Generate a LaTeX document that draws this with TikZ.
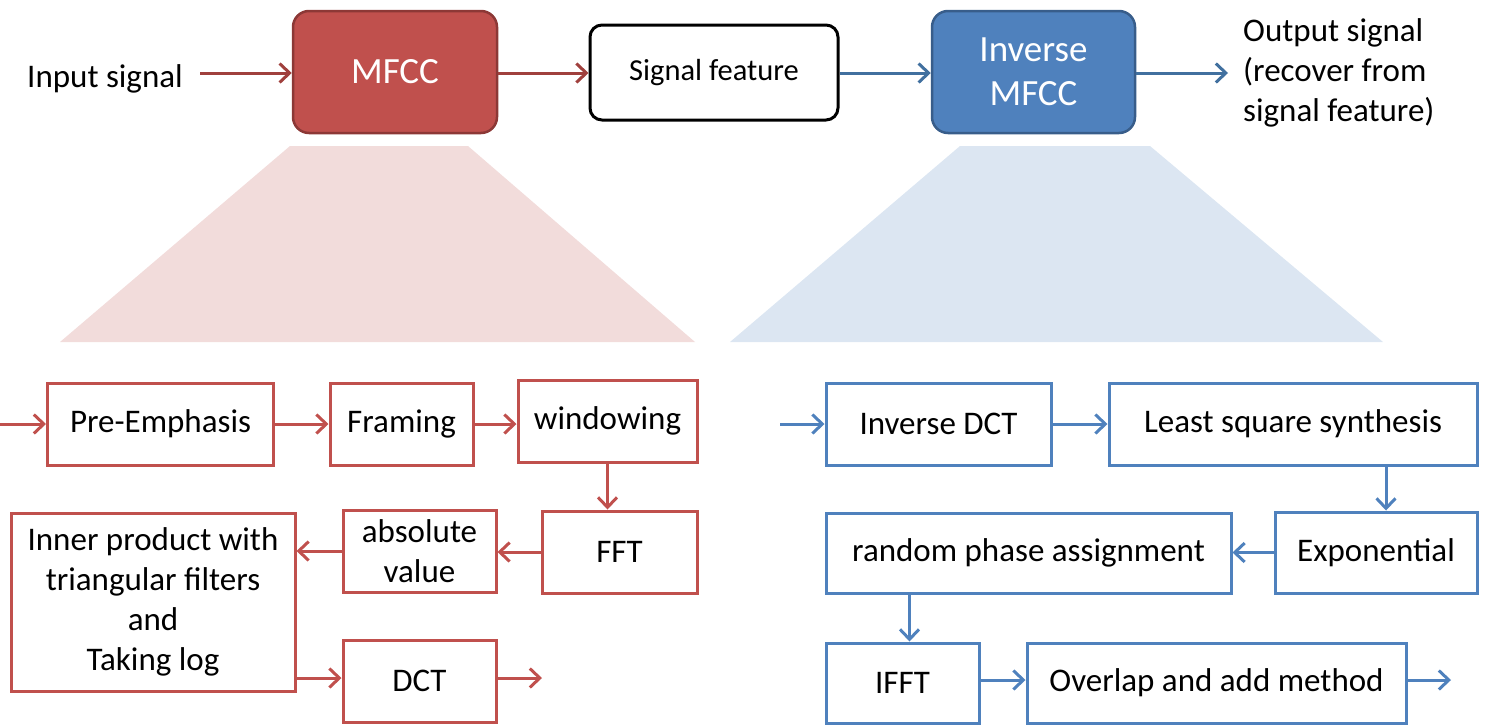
\documentclass[tikz,border=0pt]{standalone}
\usepackage{fontspec}
\setmainfont{Carlito}
\usetikzlibrary{arrows.meta,calc}
\definecolor{mred}{HTML}{C0504D}
\definecolor{mredd}{HTML}{8C3836}
\definecolor{mreda}{HTML}{A0403D}
\definecolor{mblue}{HTML}{4F81BD}
\definecolor{mblued}{HTML}{385D8A}
\definecolor{mbluea}{HTML}{41709F}
\definecolor{pinkbg}{HTML}{F2DCDB}
\definecolor{bluebg}{HTML}{DCE6F2}
\tikzset{
  txt/.style={font=\fontsize{33}{40}\selectfont, align=center, inner sep=0pt},
  topbox/.style={txt, font=\fontsize{37}{44}\selectfont, rounded corners=16pt, line width=2.5pt},
  rbox/.style={txt, draw=mred, line width=3pt},
  bbox/.style={txt, draw=mblue, line width=3pt},
  barb/.style={-{Straight Barb[length=10pt,width=19pt]}, line width=3pt},
  rarr/.style={barb, draw=mred},
  barr/.style={barb, draw=mblue},
  trarr/.style={barb, draw=mreda},
  tbarr/.style={barb, draw=mbluea},
}
\begin{document}
\begin{tikzpicture}[x=1pt,y=-1pt]
\useasboundingbox (0,0) rectangle (1488,726);
% trapezoids
\fill[pinkbg] (290,146) -- (468,146) -- (695,342) -- (60,342) -- cycle;
\fill[bluebg] (960,146) -- (1150,146) -- (1383,342) -- (730,342) -- cycle;
% top row
\node[txt] (input) at (105,79) {Input signal};
\node[topbox, fill=mred, draw=mredd, text=white, minimum width=204pt, minimum height=122pt] (mfcc) at (395,72) {MFCC};
\node[txt, draw=black, line width=3pt, rounded corners=12pt, minimum width=248pt, minimum height=95pt, font=\fontsize{30.5}{37}\selectfont] (feat) at (714,72.5) {Signal feature};
\node[topbox, fill=mblue, draw=mblued, text=white, minimum width=203pt, minimum height=122pt] (imfcc) at (1033.5,72) {Inverse\\MFCC};
\node[txt, anchor=west, align=left] (output) at (1243,73) {Output signal\\(recover from\\signal feature)};
\coordinate (ins) at (200,73);
\coordinate (outs) at (1228,73);
\draw[trarr] (ins) -- (ins -| mfcc.west);
\draw[trarr] (mfcc.east |- ins) -- (feat.west |- ins);
\draw[tbarr] (feat.east |- ins) -- (imfcc.west |- ins);
\draw[tbarr] (imfcc.east |- outs) -- (outs);
% bottom left
\node[rbox, minimum width=226pt, minimum height=82pt] (pre) at (160.5,424) {Pre-Emphasis};
\node[rbox, minimum width=143pt, minimum height=82pt] (fram) at (401.5,424) {Framing};
\node[rbox, minimum width=179pt, minimum height=82pt] (wind) at (607.5,421) {windowing};
\node[rbox, minimum width=155pt, minimum height=82pt] (fft) at (619.5,552) {FFT};
\node[rbox, minimum width=153pt, minimum height=82pt] (absv) at (419.5,551) {absolute\\value};
\node[rbox, minimum width=284pt, minimum height=178pt] (inner) at (153,602) {Inner product with\\triangular filters\\and\\Taking log};
\node[rbox, minimum width=153pt, minimum height=82pt] (dct) at (419.5,681) {DCT};
\coordinate (lin) at (0,424);
\coordinate (lout) at (542,678);
\draw[rarr] (lin) -- (pre.west);
\draw[rarr] (pre.east) -- (fram.west);
\draw[rarr] (fram.east) -- (fram.east -| wind.west);
\draw[rarr] (wind.south) -- (wind.south |- fft.north);
\draw[rarr] (fft.west) -- (fft.west -| absv.east);
\draw[rarr] (absv.west) -- (absv.west -| inner.east);
\draw[rarr] (inner.east |- lout) -- (dct.west |- lout);
\draw[rarr] (dct.east |- lout) -- (lout);
% bottom right
\node[bbox, minimum width=225pt, minimum height=82pt] (idct) at (938.5,424) {Inverse DCT};
\node[bbox, minimum width=368pt, minimum height=82pt] (lss) at (1293,424) {Least square synthesis};
\node[bbox, minimum width=202pt, minimum height=81pt] (expo) at (1376,552.5) {Exponential};
\node[bbox, minimum width=405pt, minimum height=80pt] (rand) at (1028.5,553) {random phase assignment};
\node[bbox, minimum width=153pt, minimum height=80pt] (ifft) at (902.5,683) {IFFT};
\node[bbox, minimum width=379pt, minimum height=80pt] (ovl) at (1216.5,683) {Overlap and add method};
\coordinate (rin) at (780,424);
\coordinate (rout) at (1451,680);
\draw[barr] (rin) -- (idct.west);
\draw[barr] (idct.east) -- (lss.west);
\draw[barr] ([xshift=10pt]expo.north |- lss.south) -- ([xshift=10pt]expo.north);
\draw[barr] (expo.west) -- (expo.west -| rand.east);
\draw[barr] ([xshift=7pt]ifft.north |- rand.south) -- ([xshift=7pt]ifft.north);
\draw[barr] (ifft.east |- rout) -- (ovl.west |- rout);
\draw[barr] (ovl.east |- rout) -- (rout);
\end{tikzpicture}
\end{document}
